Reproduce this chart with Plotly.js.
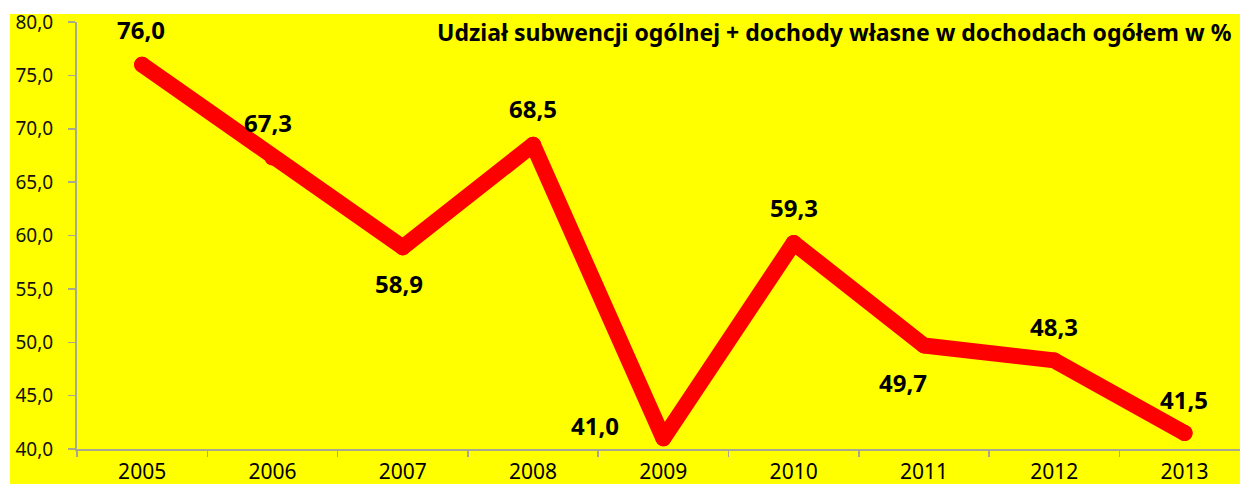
<!DOCTYPE html>
<html>
<head>
<meta charset="utf-8">
<script src="https://cdn.plot.ly/plotly-3.0.1.min.js"></script>
<style>html,body{margin:0;padding:0;background:#fff;}#chart{width:1244px;height:484px;}</style>
</head>
<body>
<div id="chart"></div>
<script>
const years = ["2005","2006","2007","2008","2009","2010","2011","2012","2013"];
const values = [76.0, 67.3, 58.9, 68.5, 41.0, 59.3, 49.7, 48.3, 41.5];
const labels = ["76,0","67,3","58,9","68,5","41,0","59,3","49,7","48,3","41,5"];
const labelShiftX = [-1, -4, -4, 0, -68, 0, -21, 0, -1];
const labelShiftY = [35, 35, -36, 36, 13, 35, -37, 34, 33];
const chartTitle = "Udział subwencji ogólnej + dochody własne w dochodach ogółem w %";

const W = 1244, H = 484;
const mL = 77, mR = 4, mT = 22, mB = 35;
const plotW = W - mL - mR, plotH = H - mT - mB;

const annotations = years.map((y, i) => ({
  x: i, y: values[i], xref: 'x', yref: 'y',
  text: '<b>' + labels[i] + '</b>', showarrow: false,
  xanchor: 'center', yanchor: 'middle',
  xshift: labelShiftX[i], yshift: labelShiftY[i],
  font: {family: 'Noto Sans', size: 24, color: '#000000'}
}));
annotations.push({
  xref: 'paper', yref: 'paper',
  x: (1234 - mL) / plotW, y: 1 - (32 - mT) / plotH,
  xanchor: 'right', yanchor: 'middle',
  text: '<b>' + chartTitle + '</b>', showarrow: false,
  font: {family: 'Noto Sans', size: 23, color: '#000000'}
});

const trace = {
  x: years, y: values, type: 'scatter', mode: 'lines+markers',
  line: {color: '#ff0000', width: 16},
  marker: {color: '#ff0000', size: 16},
  hoverinfo: 'skip'
};

const layout = {
  width: W, height: H,
  margin: {l: mL, r: mR, t: mT, b: mB, pad: 0},
  paper_bgcolor: '#ffffff', plot_bgcolor: '#ffff00',
  separators: ', ',
  showlegend: false,
  font: {family: 'Noto Sans', color: '#000'},
  shapes: [{
    type: 'rect', xref: 'paper', yref: 'paper', layer: 'below',
    x0: (10 - mL) / plotW, x1: 1, y0: -mB / plotH, y1: 1 + (mT - 14) / plotH,
    fillcolor: '#ffff00', line: {width: 0}
  }],
  xaxis: {
    type: 'category', range: [-0.5, -0.5 + plotW / 130.3],
    showgrid: false, zeroline: false,
    showline: true, linecolor: '#a8a890', linewidth: 2,
    ticks: 'outside', tickson: 'boundaries', ticklen: 6, tickcolor: '#a8a890', tickwidth: 1.5,
    tickfont: {family: 'Noto Sans', size: 21, color: '#000'},
    ticklabelstandoff: 3
  },
  yaxis: {
    range: [40, 80], dtick: 5, tick0: 40, tickformat: '.1f',
    showgrid: false, zeroline: false,
    showline: true, linecolor: '#a8a890', linewidth: 2,
    ticks: 'outside', ticklen: 7, tickcolor: '#a8a890', tickwidth: 1.5,
    tickfont: {family: 'Noto Sans', size: 19, color: '#111'},
    ticklabelstandoff: 11
  },
  annotations: annotations
};

Plotly.newPlot('chart', [trace], layout, {staticPlot: true}).then(() => {
  document.querySelectorAll('#chart path.js-line').forEach(p => {
    p.style.strokeLinejoin = 'round';
    p.style.strokeLinecap = 'round';
  });
});
</script>
</body>
</html>
